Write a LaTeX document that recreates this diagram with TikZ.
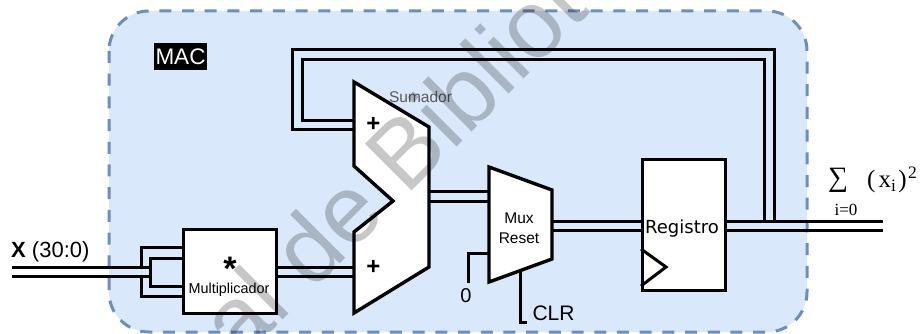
\documentclass[tikz,border=0pt]{standalone}
\usepackage{fontspec}
\setmainfont{Liberation Sans}
\newfontfamily\serifx{Liberation Serif}
\newfontfamily\regfont{DejaVu Sans}
\newcommand{\fs}[1]{\fontsize{#1}{#1}\selectfont}
\definecolor{macfill}{HTML}{DAE8FC}
\definecolor{macline}{HTML}{6C8EBF}
\tikzset{
  macbox/.style={fill=macfill,draw=macline,line width=3pt,dash pattern=on 12pt off 10.7pt,rounded corners=40pt},
  wire/.style={draw=black,line width=3pt,line join=miter},
  block/.style={draw=black,fill=white,line width=3.4pt,inner sep=0pt,line join=miter},
  lbl/.style={inner sep=0pt,text=black},
  wm/.style={inner sep=0pt,text=black,opacity=.22,rotate=45}
}
\begin{document}
\begin{tikzpicture}[x=1pt,y=-1pt]
\useasboundingbox (0,0) rectangle (924,334);
\draw[macbox] (109,11) rectangle (807,332);
% named points
\coordinate (xa) at (12,267); \coordinate (xb) at (12,276);
\coordinate (a1) at (354,82); \coordinate (a2) at (429,127); \coordinate (a3) at (429,267);
\coordinate (a4) at (354,313); \coordinate (a5) at (354,232); \coordinate (a6) at (393,201);
\coordinate (a7) at (354,166);
\coordinate (m1) at (489,167); \coordinate (m2) at (552,190); \coordinate (m3) at (552,259); \coordinate (m4) at (489,282);
\coordinate (oa) at (883,221); \coordinate (ob) at (883,230);
\coordinate (zero) at (468,283); \coordinate (clr) at (527,322);
\coordinate (mt1) at (182,247); \coordinate (mt2) at (182,258);
\coordinate (mb1) at (182,296); \coordinate (mb2) at (182,286);
\coordinate (fa) at (354,130); \coordinate (fb) at (354,121);
% input fan-in
\draw[wire] (xa) -- (150,267);
\draw[wire] (xb) -- (150,276);
\draw[wire] (141,267) |- (mt1);
\draw[wire] (141,276) |- (mb1);
\draw[wire] (mt2) -| (150,286) -- (mb2);
% multiplier to adder
\draw[wire] (278,267) -- (354,267);
\draw[wire] (278,276) -- (354,276);
% adder to mux
\draw[wire] (429,191) -- (489,191);
\draw[wire] (429,201) -- (489,201);
% mux to register and output
\draw[wire] (552,221) -- (641,221);
\draw[wire] (552,230) -- (641,230);
\draw[wire] (727,221) -- (oa);
\draw[wire] (727,230) -- (ob);
% feedback
\draw[wire] (774,221) -- (774,50) -- (292,50) -- (292,130) -- (fa);
\draw[wire] (764,221) -- (764,60) -- (302,60) -- (302,121) -- (fb);
% control
\draw[wire] (489,253) -- (468,253) -- (zero);
\draw[wire] (520,272) -- (520,322) -- (clr);
% shapes
\node[block,minimum width=93pt,minimum height=84pt,anchor=north west] (mult) at (182,228) {};
\node[block,minimum width=83pt,minimum height=131pt,anchor=north west] (reg) at (641,158) {};
\draw[block] (a1) -- (a2) -- (a3) -- (a4) -- (a5) -- (a6) -- (a7) -- cycle;
\draw[block] (m1) -- (m2) -- (m3) -- (m4) -- cycle;
\draw[wire] (641,249) -- (666,267) -- (641,286);
% text
\node[lbl,anchor=west,font=\fs{22}] (xlab) at (11,252) {\textbf{X} (30:0)};
\node[fill=black,text=white,inner sep=0pt,minimum width=53pt,minimum height=27pt,font=\fs{22.5}] (mac) at (180.5,56.5) {MAC};
\node[lbl,text=black!65,font=\fs{15.5}] (sum) at (420.5,97) {Sumador};
\node[lbl,font=\fs{14.4}] (multl) at (229,290) {Multiplicador};
\node[lbl,font=\bfseries\fs{34}] (star) at (230,269) {*};
\node[lbl,font=\bfseries\fs{24}] (p1) at (373.5,124.5) {+};
\node[lbl,font=\bfseries\fs{24}] (p2) at (373.5,267) {+};
\node[lbl,font=\fs{15.5}] (muxa) at (519,218) {Mux};
\node[lbl,font=\fs{15.5}] (muxb) at (519,238) {Reset};
\node[lbl,font=\regfont\fs{18}] (regl) at (682,229) {Registro};
\node[lbl,font=\fs{20}] (z) at (466,296) {0};
\node[lbl,font=\fs{21}] (clrl) at (553.5,313) {CLR};
\node[lbl,font=\serifx\fs{28}] (sg) at (838,180) {∑};
\node[lbl,font=\serifx\fs{17}] (i0) at (846,210) {i=0};
\node[lbl,anchor=west,font=\serifx\fs{25}] (xi) at (867,180) {(\kern3pt x\textsubscript{i}\kern2pt)\kern1.5pt\textsuperscript{2}};
% watermark
\begin{scope}
\clip (0,0) rectangle (924,334);
\node[wm,font=\fs{96},anchor=center] (wmk) at (392,163) {al de Bibliot};
\end{scope}
\end{tikzpicture}
\end{document}
